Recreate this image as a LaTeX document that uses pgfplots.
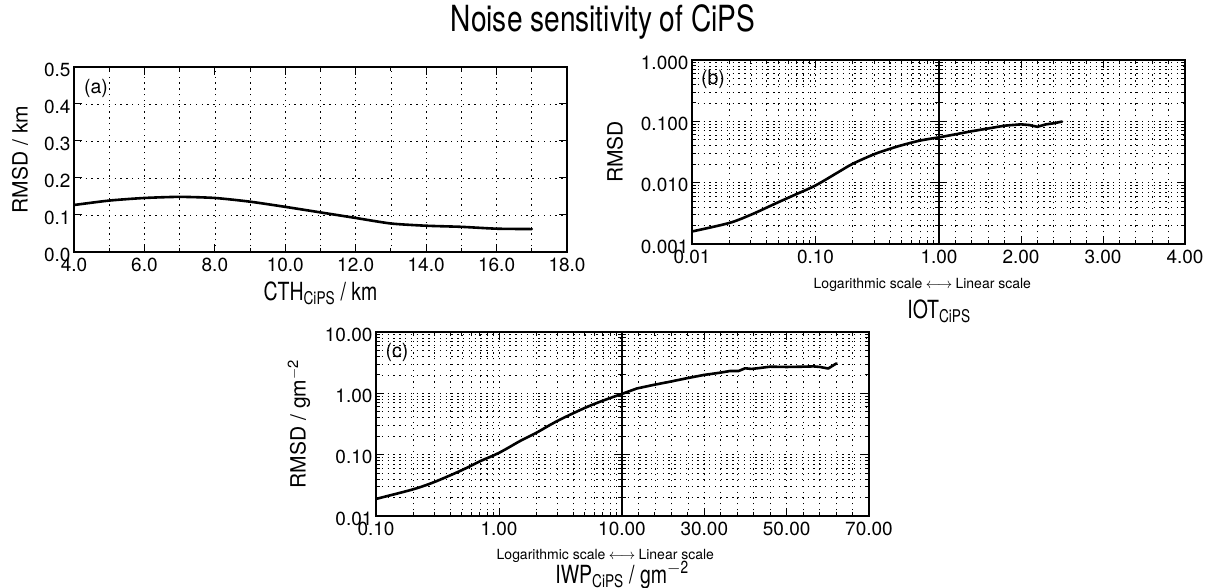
\documentclass[border=0pt]{standalone}
\usepackage{fontspec}
\setmainfont{TeX Gyre Heros}
\newfontfamily\condfont[FakeStretch=0.78]{TeX Gyre Heros}
\usepackage{pgfplots}
\pgfplotsset{compat=1.18}

\pgfplotsset{
  idl/.style={
    scale only axis,
    anchor=south west,
    axis line style={line width=1.3pt},
    grid=both,
    major grid style={black, line width=0.7pt, dash pattern=on 1.3pt off 4.5pt},
    minor grid style={black, line width=0.7pt, dash pattern=on 1.3pt off 4.5pt},
    tick align=inside,
    major tick length=8pt,
    minor tick length=4pt,
    every tick/.style={black, line width=1pt},
    tick label style={font=\fontsize{19}{21}\selectfont},
    yticklabel style={yshift=-2.5pt},
    xticklabel style={yshift=-2.5pt},
  },
}
\tikzset{curve/.style={black, line width=2.6pt, line cap=round, line join=round}}

\newcommand{\lab}{\fontsize{21}{24}\selectfont}
\newcommand{\xlab}{\condfont\fontsize{25}{28}\selectfont}
\newcommand{\smalltxt}{\fontsize{14}{16}\selectfont}

\begin{document}
\begin{tikzpicture}[x=1pt,y=1pt]
\path[use as bounding box] (0,0) rectangle (1206,587);

% title
\node at (603,565) {\condfont\fontsize{36}{40}\selectfont Noise sensitivity of CiPS};

% ---------------- (a)
\begin{axis}[idl, at={(74pt,335pt)}, width=493pt, height=185pt,
  xmin=4, xmax=18, ymin=0, ymax=0.5,
  xtick={4,6,8,10,12,14,16,18},
  xticklabels={4.0,6.0,8.0,10.0,12.0,14.0,16.0,18.0},
  minor xtick={5,7,9,11,13,15,17},
  ytick={0,0.1,0.2,0.3,0.4,0.5},
  yticklabels={0.0,0.1,0.2,0.3,0.4,0.5}]
\addplot[curve, smooth, tension=0.4] table {
4 0.127
5 0.139
6 0.146
7 0.149
8 0.146
9 0.136
10 0.122
11 0.107
12 0.092
13 0.077
14 0.071
15 0.068
16 0.063
17 0.062
};
\end{axis}
\node at (96,499) {\fontsize{19.5}{22}\selectfont (a)};
\node[anchor=base] at (320.5,287) {\xlab CTH\textsubscript{CiPS} / km};
\node[rotate=90] at (20,427.5) {\lab RMSD / km};

% ---------------- (b) log part
\begin{axis}[idl, at={(692pt,343pt)}, width=247pt, height=184pt,
  xmode=log, xmin=0.01, xmax=1,
  ymode=log, ymin=0.001, ymax=1,
  ytick={0.001,0.01,0.1,1},
  minor ytick={0.002,0.003,0.004,0.005,0.006,0.007,0.008,0.009,0.02,0.03,0.04,0.05,0.06,0.07,0.08,0.09,0.2,0.3,0.4,0.5,0.6,0.7,0.8,0.9},
  xtick={0.01,0.1,1}, xticklabels={0.01,0.10,1.00},
  minor xtick={0.02,0.03,0.04,0.05,0.06,0.07,0.08,0.09,0.2,0.3,0.4,0.5,0.6,0.7,0.8,0.9},
  yticklabels={0.001,0.010,0.100,1.000}]
\addplot[curve, smooth, tension=0.5] table {
0.01 0.0016
0.02 0.0022
0.03 0.0030
0.04 0.0039
0.05 0.0048
0.07 0.0065
0.1 0.0090
0.15 0.0145
0.2 0.0203
0.3 0.0292
0.4 0.0356
0.5 0.0408
0.7 0.0485
1.0 0.0548
};
\end{axis}
% ---------------- (b) linear part
\begin{axis}[idl, at={(939pt,343pt)}, width=246pt, height=184pt,
  xmin=1, xmax=4,
  ymode=log, ymin=0.001, ymax=1,
  ytick={0.001,0.01,0.1,1},
  minor ytick={0.002,0.003,0.004,0.005,0.006,0.007,0.008,0.009,0.02,0.03,0.04,0.05,0.06,0.07,0.08,0.09,0.2,0.3,0.4,0.5,0.6,0.7,0.8,0.9},
  xtick={1,2,3,4}, xticklabels={{},2.00,3.00,4.00},
  minor x tick num=4,
  yticklabel=\empty]
\addplot[curve] table {
1.0 0.0548
1.2 0.0614
1.4 0.0690
1.6 0.0765
1.8 0.0850
2.0 0.0893
2.1 0.0870
2.2 0.0815
2.3 0.0890
2.4 0.0930
2.5 0.0990
};
\end{axis}
\node at (713,508) {\fontsize{19.5}{22}\selectfont (b)};
\node[rotate=90] at (615,435) {\lab RMSD};
\node[anchor=base] at (939,299) {\smalltxt$\longleftrightarrow$};
\node[anchor=base east] at (926,299) {\smalltxt Logarithmic scale};
\node[anchor=base west] at (952,299) {\smalltxt Linear scale};
\node[anchor=base] at (939,269) {\xlab IOT\textsubscript{CiPS}};

% ---------------- (c) log part
\begin{axis}[idl, at={(376pt,71pt)}, width=246pt, height=184pt,
  xmode=log, xmin=0.1, xmax=10,
  ymode=log, ymin=0.01, ymax=10,
  ytick={0.01,0.1,1,10},
  minor ytick={0.02,0.03,0.04,0.05,0.06,0.07,0.08,0.09,0.2,0.3,0.4,0.5,0.6,0.7,0.8,0.9,2,3,4,5,6,7,8,9},
  xtick={0.1,1,10}, xticklabels={0.10,1.00,10.00},
  minor xtick={0.2,0.3,0.4,0.5,0.6,0.7,0.8,0.9,2,3,4,5,6,7,8,9},
  yticklabels={0.01,0.10,1.00,10.00}]
\addplot[curve, smooth, tension=0.5] table {
0.1 0.0190
0.2 0.0272
0.3 0.0360
0.5 0.0560
0.7 0.0780
1.0 0.1070
1.5 0.1690
2.0 0.226
3.0 0.357
5.0 0.580
7.0 0.760
10.0 0.980
};
\end{axis}
% ---------------- (c) linear part
\begin{axis}[idl, at={(622pt,71pt)}, width=247pt, height=184pt,
  xmin=10, xmax=70,
  ymode=log, ymin=0.01, ymax=10,
  ytick={0.01,0.1,1,10},
  minor ytick={0.02,0.03,0.04,0.05,0.06,0.07,0.08,0.09,0.2,0.3,0.4,0.5,0.6,0.7,0.8,0.9,2,3,4,5,6,7,8,9},
  xtick={10,30,50,70}, xticklabels={{},30.00,50.00,70.00},
  minor x tick num=4,
  yticklabel=\empty]
\addplot[curve] table {
10 0.98
13.6 1.20
17.6 1.37
21.7 1.55
25.7 1.76
29.8 1.99
33.8 2.17
36.2 2.31
38.3 2.31
39.9 2.56
41.5 2.50
43.5 2.59
46.0 2.72
50.0 2.69
54.0 2.72
56.5 2.75
58.1 2.69
60.1 2.54
62.1 3.08
};
\end{axis}
\node at (397,235) {\fontsize{19.5}{22}\selectfont (c)};
\node[rotate=90] at (299,163) {\lab RMSD / gm\textsuperscript{$-$2}};
\node[anchor=base] at (622,28) {\smalltxt$\longleftrightarrow$};
\node[anchor=base east] at (609,28) {\smalltxt Logarithmic scale};
\node[anchor=base west] at (635,28) {\smalltxt Linear scale};
\node[anchor=base] at (622,4) {\xlab IWP\textsubscript{CiPS} / gm\textsuperscript{$-$2}};
\end{tikzpicture}
\end{document}
